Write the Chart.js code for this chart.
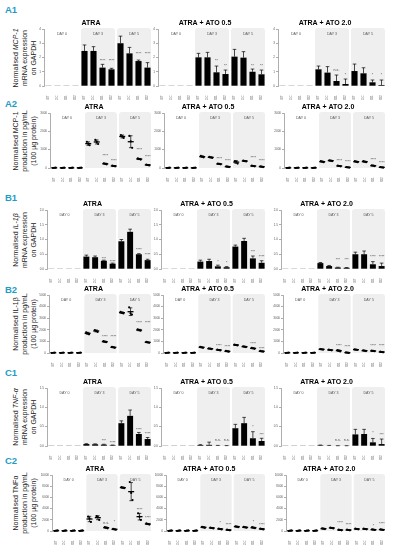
<!DOCTYPE html>
<html><head><meta charset="utf-8">
<script src="https://cdn.jsdelivr.net/npm/chart.js@4.4.1/dist/chart.umd.min.js"></script>
<style>
html,body{margin:0;padding:0;background:#fff;overflow:hidden;}
body{width:397px;height:550px;position:relative;font-family:"Liberation Sans",Arial,Helvetica,sans-serif;}
canvas{position:absolute;}
.rl{position:absolute;color:#1e9cc6;font-weight:bold;font-size:9.5px;line-height:10px;}
.yt{position:absolute;font-size:7px;line-height:9px;color:#222;text-align:center;white-space:nowrap;transform:translate(-50%,-50%) rotate(-90deg);}
</style></head><body>
<script>
// ---------- categories / labels ----------
const CATEGORIES = ['NB4-WT','TG2-C','TG2-KO1','TG2-KO2','NB4-WT','TG2-C','TG2-KO1','TG2-KO2','NB4-WT','TG2-C','TG2-KO1','TG2-KO2'];
const DAYS = ['DAY 0','DAY 3','DAY 5'];
const PANEL_TITLES = ['ATRA','ATRA + ATO 0.5','ATRA + ATO 2.0'];

// ---------- A1: MCP-1 mRNA ----------
const A1_TICKS = ['0','1','2','3','4'];
const A1_ATRA_MEAN = [0.01,0.01,0.01,0.01, 2.46,2.46,1.29,1.17, 3.00,2.29,1.75,1.29];
const A1_ATRA_SD   = [0,0,0,0, 0.42,0.30,0.23,0.07, 0.50,0.42,0.07,0.35];
const A1_ATRA_SIG  = ['','','','', '','','****','****', '','','****','****'];
const A1_ATRA_SIGY = [0,0,0,0, 0,0,1.78,1.78, 0,0,2.22,2.22];
const A1_ATO05_MEAN = [0.01,0.01,0.01,0.01, 2.01,2.01,0.96,0.84, 2.06,1.99,1.00,0.82];
const A1_ATO05_SD   = [0,0,0,0, 0.28,0.35,0.44,0.28, 0.51,0.42,0.19,0.30];
const A1_ATO05_SIG  = ['','','','', '','','**','**', '','','**','**'];
const A1_ATO05_SIGY = [0,0,0,0, 0,0,1.75,1.40, 0,0,1.43,1.43];
const A1_ATO2_MEAN = [0.01,0.01,0.01,0.01, 1.17,0.94,0.35,0.14, 1.05,0.89,0.26,0.07];
const A1_ATO2_SD   = [0,0,0,0, 0.23,0.42,0.42,0.35, 0.49,0.39,0.16,0.35];
const A1_ATO2_SIG  = ['','','','', '','','n.s.','*', '','','*','*'];
const A1_ATO2_SIGY = [0,0,0,0, 0,0,1.10,0.77, 0,0,0.77,0.77];

// ---------- A2: MCP-1 production (replicates) ----------
const A2_TICKS = ['0','1000','2000','3000'];
const A2_ATRA_PTS = [[0,10,20],[0,10,20],[0,10,20],[0,10,20],
  [1430,1320,1240],[1530,1420,1310],[260,230,200],[130,110,90],
  [1800,1720,1640],[1750,1450,1100],[520,490,460],[190,165,140]];
const A2_ATRA_SIG  = ['','','','', '','','****','****', '','','****','****'];
const A2_ATRA_SIGY = [0,0,0,0, 0,0,655,380, 0,0,965,620];
const A2_ATO05_PTS = [[0,10,20],[0,10,20],[0,10,20],[0,10,20],
  [660,620,580],[610,580,550],[240,220,200],[90,70,50],
  [380,345,240],[400,380,360],[130,110,90],[90,70,50]];
const A2_ATO05_SIG  = ['','','','', '','','****','****', '','','****','****'];
const A2_ATO05_SIGY = [0,0,0,0, 0,0,475,400, 0,0,565,400];
const A2_ATO2_PTS = [[0,10,20],[0,10,20],[0,10,20],[0,10,20],
  [370,345,320],[420,400,380],[130,110,90],[50,35,20],
  [370,345,320],[370,345,320],[145,125,105],[50,35,20]];
const A2_ATO2_SIG  = ['','','','', '','','****','****', '','','****','****'];
const A2_ATO2_SIGY = [0,0,0,0, 0,0,380,310, 0,0,435,290];

// ---------- B1: IL-1β mRNA ----------
const B1_TICKS = ['0.0','0.5','1.0','1.5','2.0'];
const B1_ATRA_MEAN = [0.005,0.005,0.005,0.005, 0.42,0.40,0.28,0.18, 0.94,1.26,0.50,0.30];
const B1_ATRA_SD   = [0,0,0,0, 0.05,0.04,0.02,0.02, 0.06,0.09,0.02,0.03];
const B1_ATRA_SIG  = ['','','','', '','','***','****', '','','****','****'];
const B1_ATRA_SIGY = [0,0,0,0, 0,0,0.34,0.25, 0,0,0.64,0.47];
const B1_ATO05_MEAN = [0.005,0.005,0.005,0.005, 0.25,0.27,0.09,0.06, 0.76,0.95,0.36,0.21];
const B1_ATO05_SD   = [0,0,0,0, 0.05,0.06,0.04,0.02, 0.05,0.09,0.08,0.07];
const B1_ATO05_SIG  = ['','','','', '','','*','*', '','','***','****'];
const B1_ATO05_SIGY = [0,0,0,0, 0,0,0.25,0.22, 0,0,0.59,0.40];
const B1_ATO2_MEAN = [0.005,0.005,0.005,0.005, 0.20,0.10,0.05,0.04, 0.50,0.50,0.16,0.10];
const B1_ATO2_SD   = [0,0,0,0, 0.02,0.02,0.01,0.01, 0.07,0.11,0.09,0.10];
const B1_ATO2_SIG  = ['','','','', '','','***','***', '','','****','****'];
const B1_ATO2_SIGY = [0,0,0,0, 0,0,0.30,0.30, 0,0,0.42,0.42];

// ---------- B2: IL-1β production (replicates) ----------
const B2_TICKS = ['0','1000','2000','3000','4000','5000'];
const B2_ATRA_PTS = [[0,20,40],[0,20,40],[0,20,40],[0,20,40],
  [1780,1700,1610],[1980,1900,1820],[1020,975,930],[530,490,450],
  [3540,3475,3410],[3940,3420,3320],[2040,1980,1920],[960,920,880]];
const B2_ATRA_SIG  = ['','','','', '','','****','****', '','','****','****'];
const B2_ATRA_SIGY = [0,0,0,0, 0,0,1400,1400, 0,0,2560,2560];
const B2_ATO05_PTS = [[0,20,40],[0,20,40],[0,20,40],[0,20,40],
  [530,490,450],[400,370,340],[300,260,220],[180,145,110],
  [730,690,650],[580,545,510],[440,400,360],[180,145,110]];
const B2_ATO05_SIG  = ['','','','', '','','****','****', '','','****','****'];
const B2_ATO05_SIGY = [0,0,0,0, 0,0,600,545, 0,0,800,370];
const B2_ATO2_PTS = [[0,20,40],[0,20,40],[0,20,40],[0,20,40],
  [340,315,290],[290,260,230],[260,200,140],[50,30,10],
  [320,290,260],[230,200,170],[200,175,150],[110,85,60]];
const B2_ATO2_SIG  = ['','','','', '','','****','****', '','','****','****'];
const B2_ATO2_SIGY = [0,0,0,0, 0,0,600,545, 0,0,575,575];

// ---------- C1: TNF-α mRNA ----------
const C1_TICKS = ['0.0','0.5','1.0','1.5'];
const C1_ATRA_MEAN = [0.003,0.003,0.003,0.003, 0.05,0.045,0.035,0.02, 0.59,0.78,0.31,0.18];
const C1_ATRA_SD   = [0,0,0,0, 0.01,0.01,0.01,0.005, 0.06,0.15,0.04,0.04];
const C1_ATRA_SIG  = ['','','','', '','','***','****', '','','****','****'];
const C1_ATRA_SIGY = [0,0,0,0, 0,0,0.13,0.09, 0,0,0.41,0.31];
const C1_ATO05_MEAN = [0.003,0.003,0.003,0.003, 0.025,0.03,0.01,0.005, 0.46,0.59,0.20,0.13];
const C1_ATO05_SD   = [0,0,0,0, 0.01,0.07,0.005,0.005, 0.10,0.15,0.17,0.07];
const C1_ATO05_SIG  = ['','','','', '','','n.s.','n.s.', '','','*','***'];
const C1_ATO05_SIGY = [0,0,0,0, 0,0,0.16,0.16, 0,0,0.50,0.28];
const C1_ATO2_MEAN = [0.003,0.003,0.003,0.003, 0.02,0.01,0.005,0.005, 0.30,0.31,0.095,0.05];
const C1_ATO2_SD   = [0,0,0,0, 0.005,0.005,0.002,0.002, 0.13,0.12,0.10,0.13];
const C1_ATO2_SIG  = ['','','','', '','','n.s.','n.s.', '','','*','***'];
const C1_ATO2_SIGY = [0,0,0,0, 0,0,0.16,0.16, 0,0,0.33,0.28];

// ---------- C2: TNFα production (replicates) ----------
const C2_TICKS = ['0','2000','4000','6000','8000','10000'];
const C2_ATRA_PTS = [[0,50,100],[0,50,100],[0,50,100],[0,50,100],
  [2550,2250,1620],[2670,2500,1970],[700,590,480],[380,300,220],
  [7850,7740,7630],[8750,6800,5540],[3150,2560,1970],[1350,1250,1150]];
const C2_ATRA_SIG  = ['','','','', '','','n.s.','*', '','','****','****'];
const C2_ATRA_SIGY = [0,0,0,0, 0,0,1490,1670, 0,0,3750,2380];
const C2_ATO05_PTS = [[0,50,100],[0,50,100],[0,50,100],[0,50,100],
  [760,660,560],[620,540,460],[440,360,280],[240,180,120],
  [850,770,690],[740,660,580],[690,590,490],[440,360,280]];
const C2_ATO05_SIG  = ['','','','', '','','*','****', '','','*','****'];
const C2_ATO05_SIGY = [0,0,0,0, 0,0,1490,1070, 0,0,1670,1070];
const C2_ATO2_PTS = [[0,50,100],[0,50,100],[0,50,100],[0,50,100],
  [480,410,340],[620,540,460],[240,180,120],[240,180,120],
  [420,360,300],[420,360,300],[300,240,180],[300,240,180]];
const C2_ATO2_SIG  = ['','','','', '','','****','****', '','','*','****'];
const C2_ATO2_SIGY = [0,0,0,0, 0,0,1490,1070, 0,0,950,1250];

// ---------- helpers ----------
function fromPts(pts, sig, sigY){
  const mean = pts.map(a => a.reduce((s,v)=>s+v,0)/a.length);
  const sd = pts.map((a,i) => Math.sqrt(a.reduce((s,v)=>s+(v-mean[i])**2,0)/(a.length-1)));
  return {pts, mean, sd, sig, sigY};
}
function fromBars(mean, sd, sig, sigY){ return {mean, sd, sig, sigY}; }

const FONT = '"Liberation Sans", Arial, Helvetica, sans-serif';
Chart.defaults.font.family = FONT;

const ROWS = [
  {label:'A1', labelY:10, top:29, bottom:86, left:44, kind:'bar', ticks:A1_TICKS,
   ytitle:'Normalised <i>MCP-1</i><br>mRNA expression<br>on GAPDH',
   panels:[fromBars(A1_ATRA_MEAN,A1_ATRA_SD,A1_ATRA_SIG,A1_ATRA_SIGY),
           fromBars(A1_ATO05_MEAN,A1_ATO05_SD,A1_ATO05_SIG,A1_ATO05_SIGY),
           fromBars(A1_ATO2_MEAN,A1_ATO2_SD,A1_ATO2_SIG,A1_ATO2_SIGY)]},
  {label:'A2', labelY:104, top:113, bottom:168, left:50, kind:'dot', ticks:A2_TICKS,
   ytitle:'Normalised MCP-1<br>production in pg/mL<br>(100 µg protein)',
   panels:[fromPts(A2_ATRA_PTS,A2_ATRA_SIG,A2_ATRA_SIGY),
           fromPts(A2_ATO05_PTS,A2_ATO05_SIG,A2_ATO05_SIGY),
           fromPts(A2_ATO2_PTS,A2_ATO2_SIG,A2_ATO2_SIGY)]},
  {label:'B1', labelY:198, top:210, bottom:269, left:47, kind:'bar', ticks:B1_TICKS,
   ytitle:'Normalised <i>IL-1β</i><br>mRNA expression<br>on GAPDH',
   panels:[fromBars(B1_ATRA_MEAN,B1_ATRA_SD,B1_ATRA_SIG,B1_ATRA_SIGY),
           fromBars(B1_ATO05_MEAN,B1_ATO05_SD,B1_ATO05_SIG,B1_ATO05_SIGY),
           fromBars(B1_ATO2_MEAN,B1_ATO2_SD,B1_ATO2_SIG,B1_ATO2_SIGY)]},
  {label:'B2', labelY:290, top:295, bottom:353, left:49, kind:'dot', ticks:B2_TICKS,
   ytitle:'Normalised IL-1β<br>production in pg/mL<br>(100 µg protein)',
   panels:[fromPts(B2_ATRA_PTS,B2_ATRA_SIG,B2_ATRA_SIGY),
           fromPts(B2_ATO05_PTS,B2_ATO05_SIG,B2_ATO05_SIGY),
           fromPts(B2_ATO2_PTS,B2_ATO2_SIG,B2_ATO2_SIGY)]},
  {label:'C1', labelY:373, top:388, bottom:446, left:47, kind:'bar', ticks:C1_TICKS,
   ytitle:'Normalised <i>TNF-α</i><br>mRNA expression<br>on GAPDH',
   panels:[fromBars(C1_ATRA_MEAN,C1_ATRA_SD,C1_ATRA_SIG,C1_ATRA_SIGY),
           fromBars(C1_ATO05_MEAN,C1_ATO05_SD,C1_ATO05_SIG,C1_ATO05_SIGY),
           fromBars(C1_ATO2_MEAN,C1_ATO2_SD,C1_ATO2_SIG,C1_ATO2_SIGY)]},
  {label:'C2', labelY:461, top:475, bottom:531, left:52, kind:'dot', ticks:C2_TICKS,
   ytitle:'Normalised TNFα<br>production in pg/mL<br>(100 µg protein)',
   panels:[fromPts(C2_ATRA_PTS,C2_ATRA_SIG,C2_ATRA_SIGY),
           fromPts(C2_ATO05_PTS,C2_ATO05_SIG,C2_ATO05_SIGY),
           fromPts(C2_ATO2_PTS,C2_ATO2_SIG,C2_ATO2_SIGY)]}
];

const COL_OFF = [0, 114, 234];
const COL_RIGHT = [152, 266, 386];
const YW = 14, XH = 14, TH = 10;

function decoPlugin(p, kind){
  return {
    id:'deco',
    afterDatasetsUpdate(chart){
      if(kind !== 'dot') return;
      for(let k=0;k<3;k++){
        chart.getDatasetMeta(k).data.forEach(pt => { pt.x += (k-1)*1.4; });
      }
    },
    beforeDatasetsDraw(chart){
      const {ctx, chartArea:a, scales:{x}} = chart;
      const half = (x.getPixelForValue(1) - x.getPixelForValue(0))/2;
      ctx.save();
      for(let g=0; g<3; g++){
        const x0 = x.getPixelForValue(g*4) - half, x1 = x.getPixelForValue(g*4+3) + half;
        if(g>0){
          ctx.fillStyle = '#efefef';
          ctx.beginPath();
          if(ctx.roundRect) ctx.roundRect(x0+1, a.top-1, x1-x0-2, a.bottom-a.top+1, [3,3,0,0]);
          else ctx.rect(x0+1, a.top-1, x1-x0-2, a.bottom-a.top+1);
          ctx.fill();
        }
        ctx.fillStyle = '#555';
        ctx.font = '3.6px ' + FONT;
        ctx.textAlign = 'center'; ctx.textBaseline = 'middle';
        ctx.fillText(DAYS[g], (x0+x1)/2, a.top+4.5);
      }
      ctx.restore();
    },
    afterDatasetsDraw(chart){
      const {ctx, scales:{x,y}} = chart;
      ctx.save();
      ctx.strokeStyle = '#000'; ctx.lineWidth = 0.7;
      p.mean.forEach((m,i) => {
        const s = p.sd[i]; if(!s) return;
        const cx = x.getPixelForValue(i);
        const yT = y.getPixelForValue(m+s);
        const yB = kind==='dot' ? y.getPixelForValue(Math.max(0,m-s)) : y.getPixelForValue(m);
        ctx.beginPath();
        ctx.moveTo(cx,yB); ctx.lineTo(cx,yT);
        ctx.moveTo(cx-1.8,yT); ctx.lineTo(cx+1.8,yT);
        if(kind==='dot'){ ctx.moveTo(cx-1.8,yB); ctx.lineTo(cx+1.8,yB); }
        ctx.stroke();
      });
      ctx.fillStyle = '#444';
      ctx.font = '3.6px ' + FONT;
      ctx.textAlign = 'center'; ctx.textBaseline = 'middle';
      p.sig.forEach((t,i) => { if(t) ctx.fillText(t, x.getPixelForValue(i), y.getPixelForValue(p.sigY[i])); });
      ctx.restore();
    }
  };
}

function makeChart(row, col){
  const p = row.panels[col];
  const plotL = row.left + COL_OFF[col], plotR = COL_RIGHT[col];
  const cl = plotL - YW, ct = row.top - TH;
  const w = Math.round(plotR - plotL + 2*YW), h = Math.round(row.bottom - row.top + XH + TH);
  const cv = document.createElement('canvas');
  cv.width = w; cv.height = h;
  cv.style.left = cl+'px'; cv.style.top = ct+'px';
  cv.style.width = w+'px'; cv.style.height = h+'px';
  document.body.appendChild(cv);
  const tickVals = row.ticks.map(t => parseFloat(t));
  let type, datasets;
  if(row.kind === 'bar'){
    type = 'bar';
    datasets = [{data:p.mean, backgroundColor:'#000', borderWidth:0, categoryPercentage:1, barPercentage:0.68}];
  } else {
    type = 'line';
    datasets = [0,1,2].map(k => ({data:p.pts.map(a=>a[k]), showLine:false, clip:false,
      pointRadius:1.1, pointBackgroundColor:'#000', pointBorderWidth:0, pointHoverRadius:0}));
    datasets.push({data:p.mean, showLine:false, clip:false, pointStyle:'line', pointRadius:3,
      pointBorderColor:'#000', pointBorderWidth:1.3, pointHoverRadius:0});
  }
  new Chart(cv, {
    type,
    data:{labels:CATEGORIES, datasets},
    options:{
      responsive:false, animation:false, devicePixelRatio:1, events:[],
      layout:{padding:{left:0,right:YW,top:0,bottom:0}, autoPadding:false},
      plugins:{
        legend:{display:false}, tooltip:{enabled:false},
        title:{display:true, text:PANEL_TITLES[col], color:'#000',
          font:{size:7, weight:'bold', lineHeight:1.2}, padding:{top:0,bottom:1.6}}
      },
      scales:{
        x:{offset:true, grid:{display:false}, border:{display:false},
           ticks:{autoSkip:false, minRotation:90, maxRotation:90, font:{size:2.8}, color:'#666', padding:1.5},
           afterFit(s){ s.height = XH; }},
        y:{min:0, max:tickVals[tickVals.length-1],
           border:{display:true, color:'#777', width:0.6},
           grid:{display:true, drawOnChartArea:false, drawTicks:true, tickLength:2, color:'#777', lineWidth:0.6},
           ticks:{font:{size:3}, color:'#555', padding:1, callback:(v,i)=>row.ticks[i]},
           afterBuildTicks(s){ s.ticks = tickVals.map(v=>({value:v})); },
           afterFit(s){ s.width = YW; }}
      }
    },
    plugins:[decoPlugin(p,row.kind)]
  });
}

ROWS.forEach(row => {
  const lab = document.createElement('div');
  lab.className = 'rl'; lab.textContent = row.label;
  lab.style.left = '5px'; lab.style.top = (row.labelY-5)+'px';
  document.body.appendChild(lab);
  const yt = document.createElement('div');
  yt.className = 'yt'; yt.innerHTML = row.ytitle;
  yt.style.left = '24px'; yt.style.top = ((row.top+row.bottom)/2)+'px';
  document.body.appendChild(yt);
  for(let c=0;c<3;c++) makeChart(row, c);
});
</script>
</body></html>
